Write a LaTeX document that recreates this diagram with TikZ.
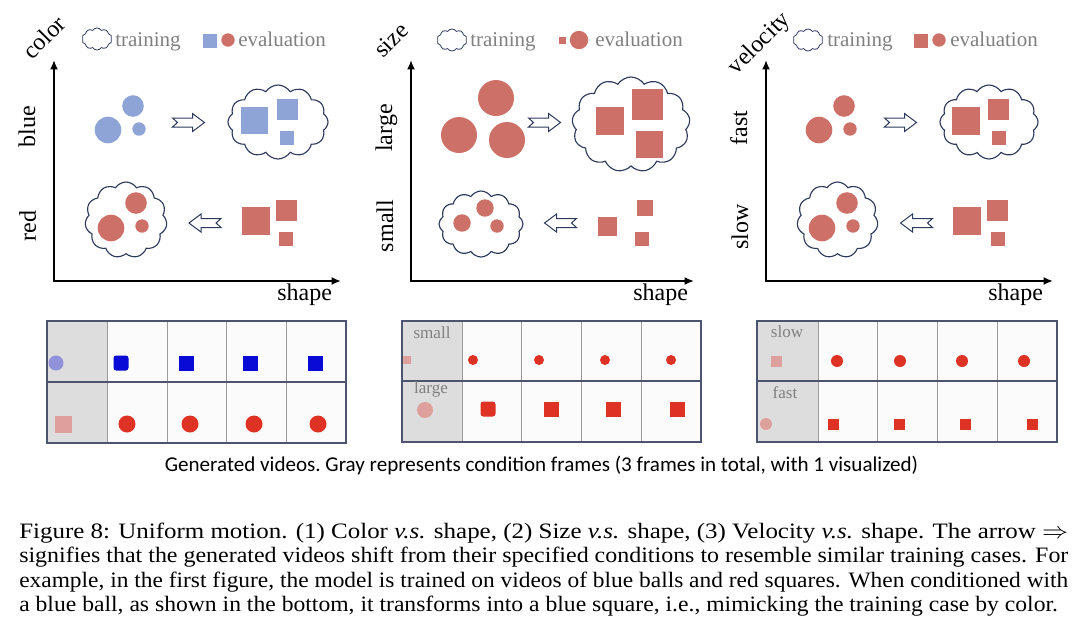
\documentclass[tikz,border=0pt]{standalone}
\usepackage{graphicx}
\usepackage{fontspec}
\setmainfont{Liberation Serif}
\newfontfamily\calibfont{Carlito}
\usetikzlibrary{shapes.symbols,arrows.meta}
\definecolor{sblue}{RGB}{142,164,214}
\definecolor{sred}{RGB}{205,113,104}
\definecolor{navy}{RGB}{46,58,92}
\definecolor{lgray}{RGB}{128,128,128}
\definecolor{vblue}{RGB}{10,10,214}
\definecolor{vred}{RGB}{222,50,36}
\definecolor{cpurple}{RGB}{146,146,218}
\definecolor{cpink}{RGB}{222,160,156}
\definecolor{condgray}{RGB}{221,221,221}
\definecolor{cellwhite}{RGB}{251,251,251}
\definecolor{gridline}{RGB}{76,84,112}
\definecolor{divline}{RGB}{155,155,155}
\newcommand\myball[4]{\fill[#1] (#2,#3) circle[radius=#4*0.75pt];}
\newcommand\mysq[4]{\fill[#1] ({#2-#4/2},{#3-#4/2}) rectangle ++(#4,#4);}
\begin{document}
\begin{tikzpicture}[x=0.75pt,y=-0.75pt,
  trcloud/.style={cloud, cloud ignores aspect, draw=navy, line width=0.85pt, fill=white, cloud puffs=12, cloud puff arc=115, inner sep=0pt},
  legcloud/.style={cloud, cloud ignores aspect, draw=navy, line width=0.6pt, fill=white, cloud puffs=10, cloud puff arc=115, inner sep=0pt, minimum width=22.5pt, minimum height=16.5pt},
  axis/.style={line width=1.5pt, {Latex[length=7pt,width=6pt]}-{Latex[length=7pt,width=6pt]}},
  axlabel/.style={font=\fontsize{18}{20}\selectfont, inner sep=0pt},
  leglabel/.style={font=\fontsize{15.75}{18}\selectfont, text=lgray, inner sep=0pt, anchor=base west},
  gridlabel/.style={font=\fontsize{12.8}{14}\selectfont, text=lgray, inner sep=0pt},
  capline/.style={font=\fontsize{16.5}{19}\selectfont, inner sep=0pt, anchor=base west},
  rarrow/.pic={\draw[navy, line width=0.75pt, fill=white, line join=miter] (-16,-4.5) -- (4,-4.5) -- (4,-9) -- (16,0) -- (4,9) -- (4,4.5) -- (-16,4.5) -- (-11,0) -- cycle;}
]
\useasboundingbox (0,0) rectangle (1080,629);
\fill[white] (0,0) rectangle (1080,629);

% ================= Panel 1 : color vs shape =================
\coordinate (p1top) at (54,60);
\coordinate (p1o) at (54,281);
\coordinate (p1right) at (341,281);
\draw[axis] (p1top) -- (p1o) -- (p1right);
\node[axlabel, rotate=45] (p1y) at (44,37) {color};
\node[axlabel, rotate=90, anchor=base] (p1blue) at (35,127) {blue};
\node[axlabel, rotate=90, anchor=base] (p1red) at (36,226) {red};
\node[axlabel, anchor=base west] (p1x) at (277,300) {shape};
% legend
\node[legcloud] (p1lc) at (97,39) {};
\node[leglabel] (p1lt) at (115,46) {training};
\mysq{sblue}{210}{40.5}{14}
\myball{sred}{228}{40}{6.7}
\node[leglabel] (p1le) at (238,46) {evaluation};
% upper row
\myball{sblue}{108}{130}{13.3}
\myball{sblue}{133}{106}{10.8}
\myball{sblue}{139}{129}{6.7}
\pic at (188.5,122.5) {rarrow};
\node[trcloud, minimum width=75pt, minimum height=55.5pt] (p1c1) at (278,122) {};
\mysq{sblue}{254.5}{120.5}{27}
\mysq{sblue}{287.5}{109.5}{21}
\mysq{sblue}{287}{138}{14}
% lower row
\node[trcloud, cloud puffs=11, minimum width=61.5pt, minimum height=57pt] (p1c2) at (126,220) {};
\myball{sred}{111}{228}{13.3}
\myball{sred}{136}{203}{10.8}
\myball{sred}{142}{226}{6.7}
\pic[xscale=-1] at (205,223) {rarrow};
\mysq{sred}{256}{221}{28}
\mysq{sred}{286.5}{210}{21}
\mysq{sred}{286}{239}{14}

% ================= Panel 2 : size vs shape =================
\coordinate (p2top) at (411,60);
\coordinate (p2o) at (411,281);
\coordinate (p2right) at (694,281);
\draw[axis] (p2top) -- (p2o) -- (p2right);
\node[axlabel, rotate=45] (p2y) at (391,40) {size};
\node[axlabel, rotate=90, anchor=base] (p2large) at (392,128) {large};
\node[axlabel, rotate=90, anchor=base] (p2small) at (393,226) {small};
\node[axlabel, anchor=base west] (p2x) at (633,300) {shape};
\node[legcloud] (p2lc) at (452,40) {};
\node[leglabel] (p2lt) at (470,46) {training};
\mysq{sred}{562}{40.5}{7}
\myball{sred}{579}{40}{9.2}
\node[leglabel] (p2le) at (595,46) {evaluation};
\myball{sred}{459}{135}{18}
\myball{sred}{496}{98}{18}
\myball{sred}{507}{140}{18}
\pic at (544.5,122.5) {rarrow};
\node[trcloud, cloud puffs=13, minimum width=88.5pt, minimum height=71.25pt] (p2c1) at (631,124.5) {};
\mysq{sred}{610}{120.5}{28}
\mysq{sred}{647.5}{104.5}{31}
\mysq{sred}{649.5}{144.5}{27}
\node[trcloud, cloud puffs=12, minimum width=63pt, minimum height=49.5pt] (p2c2) at (481,224) {};
\myball{sred}{462}{223}{8.7}
\myball{sred}{485}{208}{8.7}
\myball{sred}{497}{226}{6.7}
\pic[xscale=-1] at (560.5,223) {rarrow};
\mysq{sred}{607.5}{226}{19}
\mysq{sred}{645}{207.5}{16}
\mysq{sred}{642}{239}{14}

% ================= Panel 3 : velocity vs shape =================
\coordinate (p3top) at (766,60);
\coordinate (p3o) at (766,281);
\coordinate (p3right) at (1053,281);
\draw[axis] (p3top) -- (p3o) -- (p3right);
\node[axlabel, rotate=45] (p3y) at (760,44) {velocity};
\node[axlabel, rotate=90, anchor=base] (p3fast) at (747,128) {fast};
\node[axlabel, rotate=90, anchor=base] (p3slow) at (748,227) {slow};
\node[axlabel, anchor=base west] (p3x) at (988,300) {shape};
\node[legcloud] (p3lc) at (808,40) {};
\node[leglabel] (p3lt) at (827,46) {training};
\mysq{sred}{921}{40.5}{14}
\myball{sred}{939}{40}{6.7}
\node[leglabel] (p3le) at (950,46) {evaluation};
\myball{sred}{819}{130}{13.3}
\myball{sred}{844}{106}{10.8}
\myball{sred}{850}{129}{6.7}
\pic at (900.5,122.5) {rarrow};
\node[trcloud, minimum width=73.5pt, minimum height=55.5pt] (p3c1) at (989,122) {};
\mysq{sred}{966}{120.5}{28}
\mysq{sred}{998.5}{109.5}{21}
\mysq{sred}{999}{138}{14}
\node[trcloud, cloud puffs=11, minimum width=60.75pt, minimum height=57pt] (p3c2) at (837.5,220) {};
\myball{sred}{822}{228}{13.3}
\myball{sred}{847}{203}{10.8}
\myball{sred}{853}{226}{6.7}
\pic[xscale=-1] at (916.5,223) {rarrow};
\mysq{sred}{967}{221}{28}
\mysq{sred}{997.5}{210}{21}
\mysq{sred}{997.5}{239}{14}

% ================= Video grids =================
% grid 1
\fill[condgray] (47,321) rectangle (107,443);
\fill[cellwhite] (107,321) rectangle (346,443);
\foreach \xx in {107,167,226,286} \draw[divline, line width=0.7pt] (\xx,321) -- (\xx,443);
\draw[gridline, line width=1pt] (47,382) -- (346,382);
\draw[gridline, line width=1pt] (47,321) rectangle (346,443);
\myball{cpurple}{56}{363}{7.5}
\fill[vblue, rounded corners=2pt] (113.5,355.5) rectangle ++(15,15);
\foreach \xx in {186,250,315} {\mysq{vblue}{\xx}{363}{15}}
\mysq{cpink}{63}{424}{17}
\foreach \xx in {127,190,254,318} {\myball{vred}{\xx}{424}{8.5}}

% grid 2
\fill[condgray] (402,321) rectangle (462,442);
\fill[cellwhite] (462,321) rectangle (701,442);
\foreach \xx in {462,521,581,641} \draw[divline, line width=0.7pt] (\xx,321) -- (\xx,442);
\draw[gridline, line width=1pt] (402,381) -- (701,381);
\draw[gridline, line width=1pt] (402,321) rectangle (701,442);
\node[gridlabel] (g2s) at (432,333) {small};
\node[gridlabel] (g2l) at (431,389) {large};
\mysq{cpink}{407}{360}{8}
\foreach \xx in {473,539,605,671} {\myball{vred}{\xx}{360}{5}}
\myball{cpink}{425}{410}{8}
\fill[vred, rounded corners=2pt] (480.5,401.5) rectangle ++(15,15);
\foreach \xx in {551,613,677} {\mysq{vred}{\xx}{409}{15}}

% grid 3
\fill[condgray] (757,321) rectangle (818,442);
\fill[cellwhite] (818,321) rectangle (1057,442);
\foreach \xx in {818,877,937,997} \draw[divline, line width=0.7pt] (\xx,321) -- (\xx,442);
\draw[gridline, line width=1pt] (757,381) -- (1057,381);
\draw[gridline, line width=1pt] (757,321) rectangle (1057,442);
\node[gridlabel] (g3s) at (787,332) {slow};
\node[gridlabel] (g3f) at (785,393) {fast};
\mysq{cpink}{776}{361}{11}
\foreach \xx in {837,900,962,1024} {\myball{vred}{\xx}{361}{6}}
\myball{cpink}{766}{424}{6}
\foreach \xx in {833,899,965,1032} {\mysq{vred}{\xx}{424}{11}}

% ================= Captions =================
\node[font=\calibfont\fontsize{15.8}{18}\selectfont, inner sep=0pt, anchor=base] (gencap) at (541.5,471) {\frenchspacing Generated videos. Gray represents condition frames (3 frames in total, with 1 visualized)};
\node[capline] (cap1) at (19,538) {\resizebox{786.75pt}{\height}{Figure 8: Uniform motion. (1) Color \textit{v.s.} shape, (2) Size \textit{v.s.} shape, (3) Velocity \textit{v.s.} shape. The arrow $\Rightarrow$}};
\node[capline] (cap2) at (19,562.5) {\resizebox{786.75pt}{\height}{signifies that the generated videos shift from their specified conditions to resemble similar training cases. For}};
\node[capline] (cap3) at (19,587) {\resizebox{786.75pt}{\height}{example, in the first figure, the model is trained on videos of blue balls and red squares. When conditioned with}};
\node[capline] (cap4) at (19,611) {\resizebox{779pt}{\height}{a blue ball, as shown in the bottom, it transforms into a blue square, i.e., mimicking the training case by color.}};
\end{tikzpicture}
\end{document}
